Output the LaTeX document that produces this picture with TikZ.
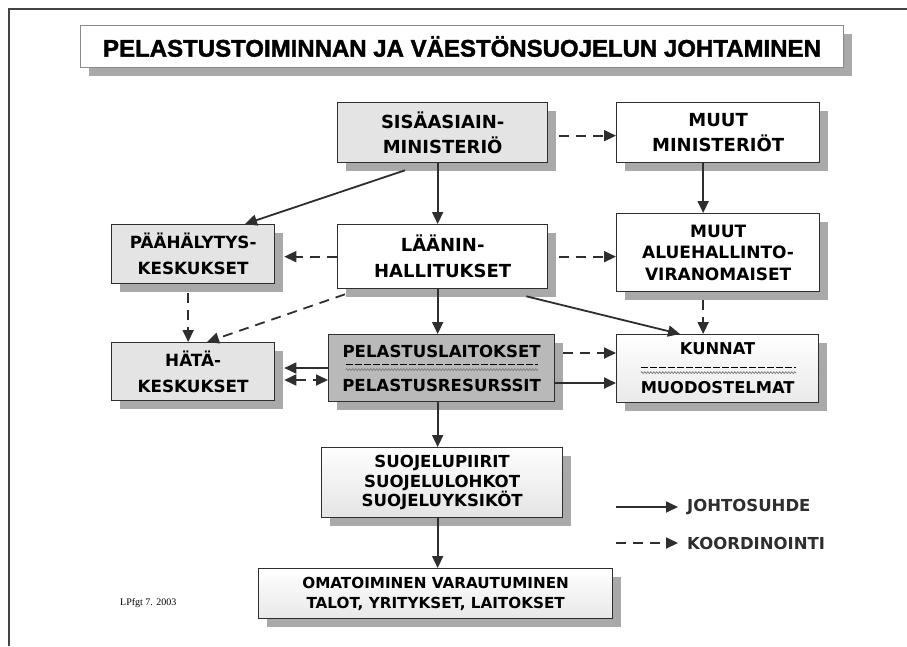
\documentclass[tikz,border=0pt]{standalone}
\usepackage{fontspec}
\setmainfont{DejaVu Sans}
\newfontfamily\titlefont[FakeBold=1.6]{Liberation Sans}
\newfontfamily\notefont{Liberation Serif}
\usetikzlibrary{arrows.meta,shadows,decorations.pathmorphing,calc}

\definecolor{ink}{HTML}{2E2E2E}
\definecolor{lightfill}{HTML}{E4E4E4}
\definecolor{pelfill}{HTML}{B9B9B9}
\definecolor{shadegray}{HTML}{A9A9A9}
\definecolor{framegray}{HTML}{8A8A8A}

\newcommand\boxfont[2]{\bfseries\fontsize{#1pt}{#2pt}\selectfont}

\tikzset{
  x=1pt, y=-1pt,
  box/.style={draw=ink, line width=1.3pt, inner sep=0pt, align=center,
    text=black, anchor=north west,
    drop shadow={shadow xshift=8pt, shadow yshift=-8pt, fill=shadegray, opacity=1}},
  lead/.style={draw=ink, line width=1.8pt, -{Triangle[length=12pt,width=11pt]}},
  coordl/.style={lead, dash pattern=on 10pt off 7pt},
  twoway/.style={draw=ink, line width=1.8pt, dash pattern=on 10pt off 7pt,
    {Triangle[length=12pt,width=11pt]}-{Triangle[length=12pt,width=11pt]}},
  sepdash/.style={draw=black, line width=1.4pt, dash pattern=on 7pt off 2pt},
  squiggle/.style={draw=gray, line width=0.7pt, decorate,
    decoration={zigzag, segment length=3pt, amplitude=1pt}},
  legendtext/.style={anchor=west, inner sep=0pt, text=ink, font=\boxfont{16.5}{19}}
}

\begin{document}
\begin{tikzpicture}
\useasboundingbox (0,0) rectangle (907,646);
\fill[white] (0,0) rectangle (907,646);

% page frame (top and left edges)
\draw[draw=ink!90, line width=1.3pt] (9,646) -- (9,9) -- (907,9);

% title
\node[box, draw=framegray, line width=1pt, fill=white,
      minimum width=763pt, minimum height=42pt,
      font=\titlefont\bfseries\fontsize{24pt}{28pt}\selectfont]
  (title) at (80,25) {PELASTUSTOIMINNAN JA VÄESTÖNSUOJELUN JOHTAMINEN};

% boxes
\node[box, fill=lightfill, minimum width=210pt, minimum height=60pt, font=\boxfont{18}{25}]
  (sis) at (337,102) {SISÄASIAIN-\\MINISTERIÖ};
\node[box, fill=white, minimum width=203pt, minimum height=60pt, font=\boxfont{18}{25}]
  (mmin) at (616,102) {MUUT\\MINISTERIÖT};
\node[box, fill=lightfill, minimum width=163pt, minimum height=59pt, font=\boxfont{16.8}{26}]
  (paah) at (111,224) {PÄÄHÄLYTYS-\\KESKUKSET};
\node[box, fill=white, minimum width=210pt, minimum height=64pt, font=\boxfont{18}{26}]
  (laan) at (337,224) {LÄÄNIN-\\HALLITUKSET};
\node[box, fill=white, minimum width=203pt, minimum height=78pt, font=\boxfont{17}{21.5}]
  (malu) at (616,213) {MUUT\\ALUEHALLINTO-\\VIRANOMAISET};
\node[box, fill=lightfill, minimum width=163pt, minimum height=58pt, font=\boxfont{16.8}{26}]
  (hata) at (111,342) {HÄTÄ-\\KESKUKSET};
\node[box, fill=pelfill, minimum width=226pt, minimum height=67pt, font=\boxfont{16.6}{34}]
  (pel) at (328,334) {PELASTUSLAITOKSET\\PELASTUSRESURSSIT};
\node[box, top color=white, bottom color=lightfill!80, minimum width=202pt, minimum height=68pt,
      font=\boxfont{16.3}{39}]
  (kun) at (616,334) {KUNNAT\\MUODOSTELMAT};
\node[box, top color=white!95!lightfill, bottom color=lightfill, minimum width=241pt, minimum height=70pt,
      font=\boxfont{16.6}{19.5}]
  (suo) at (321,447) {SUOJELUPIIRIT\\SUOJELULOHKOT\\SUOJELUYKSIKÖT};
\node[box, top color=white, bottom color=lightfill!85, minimum width=354pt, minimum height=50pt,
      font=\boxfont{15.2}{20}]
  (omat) at (258,568) {OMATOIMINEN VARAUTUMINEN\\TALOT, YRITYKSET, LAITOKSET};

% separators inside the two split boxes
\draw[sepdash] ($(pel.west)+(18,-3.5)$) -- ($(pel.east)+(-17,-3.5)$);
\draw[squiggle] ($(pel.west)+(18,1.5)$) -- ($(pel.east)+(-17,1.5)$);
\draw[sepdash] ($(kun.west)+(25,-1)$) -- ($(kun.east)+(-23,-1)$);
\draw[squiggle] ($(kun.west)+(25,4)$) -- ($(kun.east)+(-23,4)$);

% central vertical line of command
\coordinate (spine) at ([xshift=-5pt]laan.south);
\draw[lead] (spine |- sis.south) -- (spine |- laan.north);
\draw[lead] (spine) -- (spine |- pel.north);
\draw[lead] (spine |- pel.south) -- (spine |- suo.north);
\draw[lead] (spine |- suo.south) -- (spine |- omat.north);

% right column
\coordinate (rspine) at ([xshift=-15pt]mmin.south);
\draw[lead] (rspine) -- (rspine |- malu.north);
\draw[coordl, shorten <=8pt] (rspine |- malu.south) -- (rspine |- kun.north);
\draw[coordl, shorten <=11pt] ([yshift=-3pt]sis.east) -- ([yshift=-3pt]sis.east -| mmin.west);
\draw[coordl, shorten <=11pt] (laan.east) -- (laan.east -| malu.west);
\draw[lead] ([xshift=-22pt,yshift=-7pt]laan.south east) -- ([xshift=64pt]kun.north west);

% left column
\draw[lead] ([xshift=68pt,yshift=-7pt]sis.south west) -- ([xshift=134pt]paah.north west);
\draw[coordl, shorten >=9pt] (laan.west) -- (laan.west -| paah.east);
\coordinate (lspine) at ([xshift=-5pt]paah.south);
\draw[coordl, shorten <=9pt] (lspine) -- (lspine |- hata.north);
\draw[coordl] ([xshift=8pt,yshift=-5pt]laan.south west) -- ([xshift=96pt]hata.north west);

% links between rescue services and neighbours
\coordinate (pa) at ([yshift=-34pt]pel.north west);
\coordinate (pb) at ([yshift=-46pt]pel.north west);
\draw[lead, shorten >=9pt] (pa) -- (pa -| hata.east);
\draw[twoway, shorten <=9pt] (pb -| hata.east) -- (pb);
\coordinate (pc) at ([yshift=-19pt]pel.north east);
\coordinate (pd) at ([yshift=-49pt]pel.north east);
\draw[coordl, shorten <=8pt] (pc) -- (pc -| kun.west);
\draw[lead] (pd) -- (pd -| kun.west);

% legend
\node[legendtext] (ljoht) at (687,507) {JOHTOSUHDE};
\node[legendtext] (lkoord) at (687,543) {KOORDINOINTI};
\coordinate (lj0) at (616,507);
\coordinate (lk0) at (616,543);
\draw[lead, shorten >=9pt] (lj0) -- (ljoht.west);
\draw[coordl, shorten >=9pt] (lk0) -- (lkoord.west);

% date note
\node[anchor=west, inner sep=0pt, font=\notefont\fontsize{10pt}{12pt}\selectfont] (note) at (120,603) {LPfgt 7. 2003};
\end{tikzpicture}
\end{document}
